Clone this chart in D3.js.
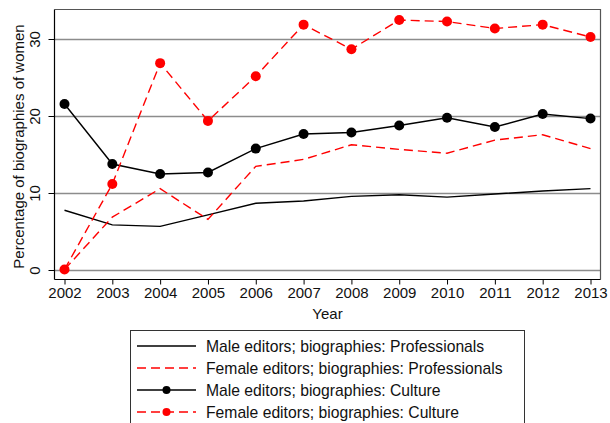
<!DOCTYPE html>
<html>
<head>
<meta charset="utf-8">
<script src="https://cdn.jsdelivr.net/npm/d3@7"></script>
<style>
  body { margin: 0; background: #fff; }
  svg { display: block; font-family: "Liberation Sans", Arial, Helvetica, sans-serif; }
</style>
</head>
<body>
<svg id="chart" width="610" height="423"></svg>
<script>
const years = [2002, 2003, 2004, 2005, 2006, 2007, 2008, 2009, 2010, 2011, 2012, 2013];
const yTicks = [0, 10, 20, 30];

const maleProf   = [7.7, 5.8, 5.6, 7.1, 8.6, 8.9, 9.5, 9.7, 9.4, 9.8, 10.2, 10.5];
const femaleProf = [0.0, 6.8, 10.5, 6.5, 13.4, 14.3, 16.2, 15.6, 15.1, 16.8, 17.5, 15.7];
const maleCult   = [21.5, 13.7, 12.4, 12.6, 15.7, 17.6, 17.8, 18.7, 19.7, 18.5, 20.2, 19.6];
const femaleCult = [0.0, 11.1, 26.8, 19.3, 25.1, 31.8, 28.6, 32.4, 32.2, 31.3, 31.8, 30.2];

const seriesNames = [
  "Male editors; biographies: Professionals",
  "Female editors; biographies: Professionals",
  "Male editors; biographies: Culture",
  "Female editors; biographies: Culture"
];

const series = [
  { name: seriesNames[0], values: maleProf,   color: "#000", dash: null,  dots: false },
  { name: seriesNames[1], values: femaleProf, color: "#f00", dash: "9,5", dots: false },
  { name: seriesNames[2], values: maleCult,   color: "#000", dash: null,  dots: true },
  { name: seriesNames[3], values: femaleCult, color: "#f00", dash: "9,5", dots: true }
];

const svg = d3.select("#chart");
const plot = { left: 54.5, right: 600.5, top: 9.5, bottom: 279.5 };

const x = d3.scaleLinear().domain([2002, 2013]).range([64.5, 590.5]);
const y = d3.scaleLinear().domain([0, 30]).range([269.5, 38.5]);
const yPix = d => Math.round(y(d)) + 0.5;

// gridlines
svg.append("g").selectAll("line")
  .data(yTicks)
  .join("line")
  .attr("x1", plot.left).attr("x2", plot.right)
  .attr("y1", yPix).attr("y2", yPix)
  .attr("stroke", "#8c8c8c").attr("stroke-width", 1.3);

// frame (top + right)
svg.append("path")
  .attr("d", `M${plot.left},${plot.top}H${plot.right}V${plot.bottom}`)
  .attr("fill", "none").attr("stroke", "#555").attr("stroke-width", 1.2);

// y axis, labels rotated like the original
const yAxis = svg.append("g")
  .attr("transform", `translate(${plot.left},0)`)
  .call(d3.axisLeft(y).tickValues(yTicks).tickSize(6).tickFormat(d3.format("d")));
yAxis.select(".domain").attr("d", `M0,${plot.top}V${plot.bottom}`).attr("stroke", "#000").attr("stroke-width", 1.2);
yAxis.selectAll(".tick").attr("transform", null);
yAxis.selectAll(".tick line").attr("stroke", "#000").attr("y1", yPix).attr("y2", yPix);
yAxis.selectAll(".tick text")
  .attr("font-size", 15).attr("fill", "#111")
  .attr("text-anchor", "middle").attr("dy", null)
  .attr("transform", "rotate(-90)")
  .attr("x", d => -yPix(d))
  .attr("y", -15);

const xAxis = svg.append("g")
  .attr("transform", `translate(0,${plot.bottom})`)
  .call(d3.axisBottom(x).tickValues(years).tickSize(5).tickPadding(3).tickFormat(d3.format("d")));
xAxis.select(".domain").attr("d", `M${plot.left},0H${plot.right}`).attr("stroke", "#000").attr("stroke-width", 1.2);
xAxis.selectAll(".tick line").attr("stroke", "#000");
xAxis.selectAll(".tick text").attr("font-size", 15).attr("fill", "#111");

svg.append("text")
  .attr("x", (plot.left + plot.right) / 2).attr("y", 319)
  .attr("text-anchor", "middle").attr("font-size", 15).attr("fill", "#111")
  .text("Year");

svg.append("text")
  .attr("transform", `translate(24,${(plot.top + plot.bottom) / 2 + 2}) rotate(-90)`)
  .attr("text-anchor", "middle").attr("font-size", 15).attr("fill", "#111")
  .text("Percentage of biographies of women");

// lines
const line = d3.line().x((d, i) => x(years[i])).y(d => y(d));

const g = svg.append("g").selectAll("g")
  .data(series)
  .join("g");

g.append("path")
  .attr("d", d => line(d.values))
  .attr("fill", "none")
  .attr("stroke", d => d.color)
  .attr("stroke-width", 1.4)
  .attr("stroke-dasharray", d => d.dash);

g.filter(d => d.dots).selectAll("circle")
  .data(d => d.values.map((v, i) => ({ v, i, color: d.color })))
  .join("circle")
  .attr("cx", d => x(years[d.i]))
  .attr("cy", d => y(d.v))
  .attr("r", 5)
  .attr("fill", d => d.color);

// legend
const legend = svg.append("g");
legend.append("rect")
  .attr("x", 130.5).attr("y", 330.5).attr("width", 394).attr("height", 110)
  .attr("fill", "#fff").attr("stroke", "#333").attr("stroke-width", 1);

const rows = legend.selectAll("g.row")
  .data(series)
  .join("g")
  .attr("class", "row")
  .attr("transform", (d, i) => `translate(0,${346 + i * 22})`);

rows.append("line")
  .attr("x1", 137).attr("x2", 196)
  .attr("stroke", d => d.color).attr("stroke-width", 1.4)
  .attr("stroke-dasharray", d => d.dash);

rows.filter(d => d.dots).append("circle")
  .attr("cx", 166.5).attr("r", 4).attr("fill", d => d.color);

rows.append("text")
  .attr("x", 206).attr("dy", "0.35em")
  .attr("font-size", 15.7).attr("fill", "#111")
  .text(d => d.name);
</script>
</body>
</html>
